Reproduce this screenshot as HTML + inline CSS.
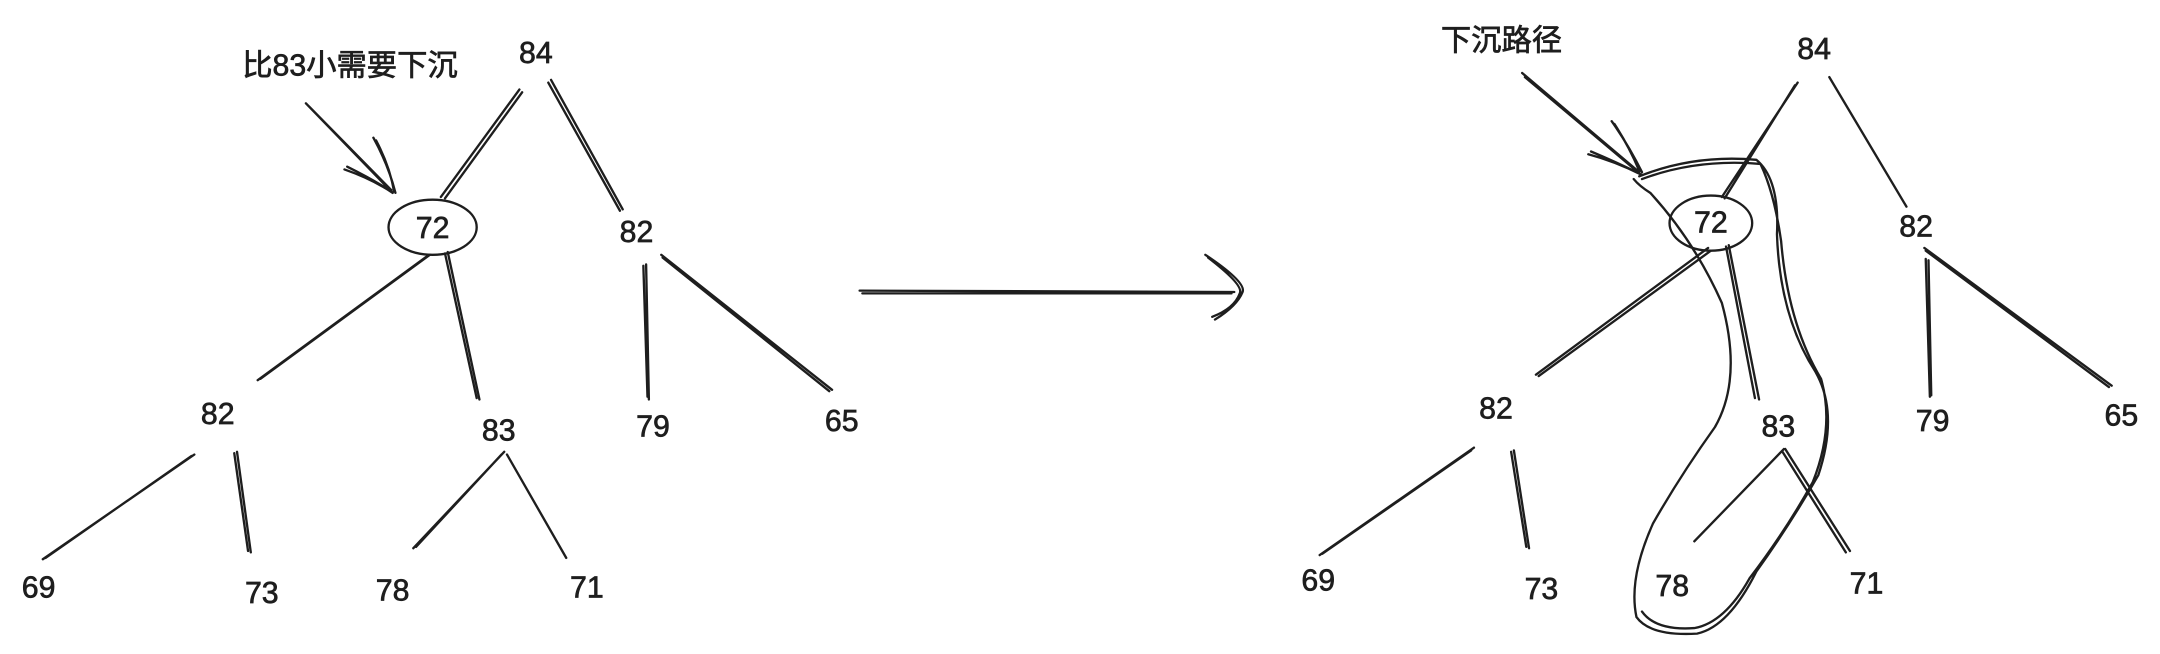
<!DOCTYPE html>
<html><head><meta charset="utf-8"><style>
html,body{margin:0;padding:0;background:#fff;}
svg{display:block;}
text{font-family:"Liberation Sans","Noto Sans CJK SC",sans-serif;font-size:22px;fill:#1e1e1e;stroke:#1e1e1e;stroke-width:0.5;text-anchor:middle;dominant-baseline:middle;}
.s{stroke:#1e1e1e;stroke-width:1.7;fill:none;stroke-linecap:round;stroke-linejoin:round;}
</style></head><body>
<svg width="2160" height="654" viewBox="0 0 1568 474.8">
<rect width="1568" height="474.8" fill="#fff"/>
<g>
 <text x="254" y="49">比83小需要下沉</text>
 <path class="s" d="M222 75 L285 140 M224 77 L284 138 M250 123 Q270 130 285 140 M252 121 Q272 131 284 139 M271 100 Q282 120 287 140 M273 102 Q283 121 286 139"/>
 <ellipse class="s" cx="314" cy="165" rx="32" ry="20"/>
 <path class="s" d="M377 65 L320 143 M379 67 L323 144 M400 58 L452 152 M398 60 L450 153 M310 186 L187 276 M312 185 L189 275 M325 183 L348 290 M323 184 L346 289 M469 192 L471 290 M467 193 L470 288 M480 185 L604 283 M481 187 L602 284 M141 330 L31 406 M139 331 L33 405 M172 328 L182 401 M170 329 L180 400 M366 328 L300 398 M364 330 L302 397 M368 330 L411 405"/>
 <text x="389" y="40">84</text>
 <text x="314" y="167">72</text>
 <text x="462" y="170">82</text>
 <text x="158" y="302">82</text>
 <text x="362" y="314">83</text>
 <text x="474" y="311">79</text>
 <text x="611" y="307">65</text>
 <text x="28" y="428">69</text>
 <text x="190" y="432">73</text>
 <text x="285" y="430">78</text>
 <text x="426" y="428">71</text>
</g>
<path class="s" d="M624 211 L896 212 M626 213 L894 213 M875 185 Q905 205 902 212 Q898 222 882 232 M877 187 Q903 207 900 213 Q896 224 880 230"/>
<g>
 <text x="1090" y="31">下沉路径</text>
 <path class="s" d="M1105 53 L1190 125 M1107 56 L1188 124 M1153 112 Q1172 117 1192 127 M1155 110 Q1174 118 1190 126 M1170 88 Q1182 105 1192 125 M1172 90 Q1183 107 1190 124"/>
 <ellipse class="s" cx="1242" cy="162" rx="30" ry="20"/>
 <path class="s" d="M1190 128 Q1230 112 1275 116 Q1292 130 1290 170 Q1292 230 1318 270 Q1335 300 1320 345 Q1300 380 1275 415 Q1255 455 1232 460 Q1198 462 1188 448 Q1182 420 1200 380 Q1220 345 1245 310 Q1265 275 1250 220 Q1230 175 1198 140 Q1190 135 1186 130 M1192 130 Q1232 115 1278 119 Q1288 140 1293 175 Q1298 235 1322 275 Q1332 310 1316 350 Q1296 386 1270 420 Q1252 452 1230 456 Q1202 458 1192 444"/>
 <path class="s" d="M1305 60 L1250 143 M1303 62 L1252 144 M1328 56 L1384 150 M1240 180 L1115 272 M1242 182 L1117 273 M1255 178 L1277 290 M1253 179 L1274 289 M1398 188 L1401 288 M1400 189 L1402 287 M1397 180 L1533 280 M1398 182 L1531 281 M1070 325 L958 403 M1068 327 L960 402 M1099 327 L1110 398 M1097 328 L1108 397 M1295 326 L1230 393 M1296 326 L1343 400 M1294 328 L1340 401"/>
 <text x="1317" y="37">84</text>
 <text x="1242" y="163">72</text>
 <text x="1391" y="166">82</text>
 <text x="1086" y="298">82</text>
 <text x="1291" y="311">83</text>
 <text x="1403" y="307">79</text>
 <text x="1540" y="303">65</text>
 <text x="957" y="423">69</text>
 <text x="1119" y="429">73</text>
 <text x="1214" y="427">78</text>
 <text x="1355" y="425">71</text>
</g>
</svg>
</body></html>
